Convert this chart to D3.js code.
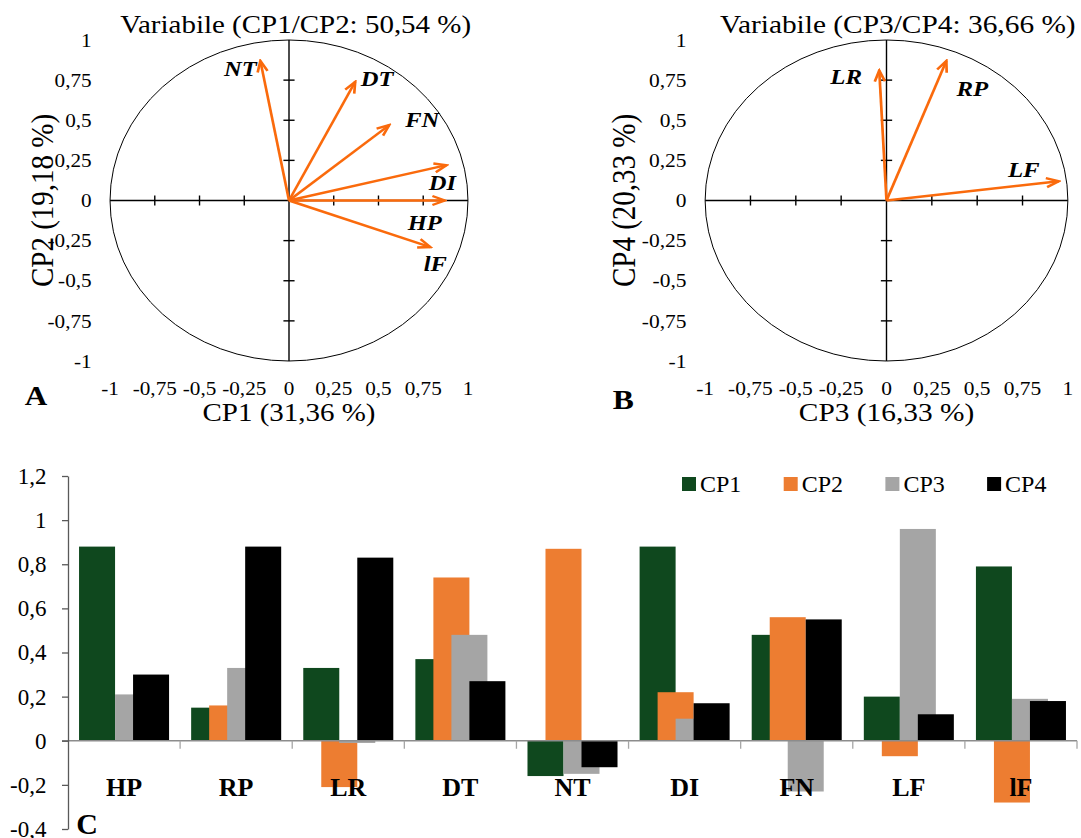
<!DOCTYPE html>
<html>
<head>
<meta charset="utf-8">
<script src="https://cdn.jsdelivr.net/npm/d3@7"></script>
<style>
  body { margin: 0; background: #fff; }
  svg { display: block; font-family: "Liberation Serif", "Times New Roman", serif; }
</style>
</head>
<body>
<svg id="chart" width="1081" height="838"></svg>
<script>
// loadings plotted as arrows, panel A (CP1 / CP2)
const varsA = ["NT", "DT", "FN", "DI", "HP", "lF"];
const cp1A = [-0.16, 0.37, 0.56, 0.88, 0.87, 0.79];
const cp2A = [0.87, 0.74, 0.47, 0.22, 0.0, -0.29];

// panel B (CP3 / CP4)
const varsB = ["LR", "RP", "LF"];
const cp3B = [-0.04, 0.33, 0.95];
const cp4B = [0.81, 0.87, 0.12];

const circleTicks = [-1, -0.75, -0.5, -0.25, 0, 0.25, 0.5, 0.75, 1];

// panel C, bar chart of the loadings
const categories = ["HP", "RP", "LR", "DT", "NT", "DI", "FN", "LF", "lF"];
const seriesNames = ["CP1", "CP2", "CP3", "CP4"];
const cp1 = [0.88, 0.15, 0.33, 0.37, -0.16, 0.88, 0.48, 0.20, 0.79];
const cp2 = [0.00, 0.16, -0.21, 0.74, 0.87, 0.22, 0.56, -0.07, -0.28];
const cp3 = [0.21, 0.33, -0.01, 0.48, -0.15, 0.10, -0.23, 0.96, 0.19];
const cp4 = [0.30, 0.88, 0.83, 0.27, -0.12, 0.17, 0.55, 0.12, 0.18];
const barTicks = [-0.4, -0.2, 0, 0.2, 0.4, 0.6, 0.8, 1, 1.2];

const colors = ["#0f481e", "#ed7d31", "#a5a5a5", "#000000"];
const arrowColor = "#fa6a0c";

// label offsets from arrow tips (px)
const labelOffA = { NT: [-20, 7], DT: [22, -3], FN: [33, -6], DI: [-4, 17], HP: [-20, 22], lF: [5, 16] };
const labelOffB = { LR: [-33, 6], RP: [26, 27], LF: [-35, -12] };

const fmt = d3.formatLocale({ decimal: ",", thousands: ".", grouping: [3], currency: ["", ""], minus: "-" }).format("");

const svg = d3.select("#chart");

svg.append("defs").append("marker")
  .attr("id", "head")
  .attr("viewBox", "-13 -7 15 14")
  .attr("markerUnits", "userSpaceOnUse")
  .attr("markerWidth", 15)
  .attr("markerHeight", 14)
  .attr("refX", 0)
  .attr("refY", 0)
  .attr("orient", "auto")
  .append("path")
  .attr("d", "M-11,-4.5 L0,0 L-11,4.5")
  .attr("fill", "none")
  .attr("stroke", arrowColor)
  .attr("stroke-width", 2.4);

function drawCircle(o) {
  const g = svg.append("g").attr("transform", `translate(${o.cx},0) scale(${o.sx},1)`);
  const x = d3.scaleLinear().domain([-1, 1]).range([-160.5, 160.5]);
  const y = d3.scaleLinear().domain([-1, 1]).range([361, 40]);

  g.append("ellipse")
    .attr("cx", x(0)).attr("cy", y(0))
    .attr("rx", x(1) - x(0)).attr("ry", y(-1) - y(0))
    .attr("fill", "none").attr("stroke", "#000").attr("stroke-width", 1)
    .attr("vector-effect", "non-scaling-stroke");

  const axes = g.append("g").attr("stroke", "#000").attr("stroke-width", 1.4);
  axes.append("line").attr("x1", x(-1)).attr("x2", x(1)).attr("y1", y(0)).attr("y2", y(0))
    .attr("vector-effect", "non-scaling-stroke");
  axes.append("line").attr("x1", x(0)).attr("x2", x(0)).attr("y1", y(-1)).attr("y2", y(1))
    .attr("vector-effect", "non-scaling-stroke");

  const inner = circleTicks.filter(t => t !== 0 && Math.abs(t) !== 1);
  inner.forEach(t => {
    axes.append("line").attr("x1", x(t)).attr("x2", x(t)).attr("y1", y(0) - 5).attr("y2", y(0) + 5)
      .attr("vector-effect", "non-scaling-stroke");
    axes.append("line").attr("x1", x(0) - 5).attr("x2", x(0) + 5).attr("y1", y(t)).attr("y2", y(t))
      .attr("vector-effect", "non-scaling-stroke");
  });

  g.selectAll(".ylab").data(circleTicks).join("text")
    .attr("x", -177).attr("y", d => y(d)).attr("dy", "0.35em")
    .attr("text-anchor", "end").attr("font-size", 19)
    .text(d => fmt(d));

  g.selectAll(".xlab").data(circleTicks).join("text")
    .attr("x", d => x(d)).attr("y", 395)
    .attr("text-anchor", "middle").attr("font-size", 19)
    .text(d => fmt(d));

  g.append("text").attr("x", o.titleX).attr("y", 33)
    .attr("text-anchor", "middle").attr("font-size", 26).text(o.title);
  g.append("text").attr("x", 0).attr("y", 421)
    .attr("text-anchor", "middle").attr("font-size", 26).text(o.xTitle);
  g.append("text")
    .attr("transform", `translate(${o.yTitleX},${y(0)}) rotate(-90)`)
    .attr("dy", "0.35em")
    .attr("text-anchor", "middle").attr("font-size", 29).text(o.yTitle);
  g.append("text").attr("x", o.letterX).attr("y", o.letterY)
    .attr("text-anchor", "middle").attr("font-size", 28).attr("font-weight", "bold").text(o.letter);

  o.names.forEach((name, i) => {
    const tx = x(o.xs[i]), ty = y(o.ys[i]);
    g.append("line")
      .attr("x1", x(0)).attr("y1", y(0)).attr("x2", tx).attr("y2", ty)
      .attr("stroke", arrowColor).attr("stroke-width", 2.4)
      .attr("marker-end", "url(#head)");
    const off = o.offsets[name];
    g.append("text")
      .attr("x", tx + off[0] / o.sx).attr("y", ty + off[1]).attr("dy", "0.35em")
      .attr("text-anchor", "middle").attr("font-size", 22)
      .attr("font-weight", "bold").attr("font-style", "italic")
      .text(name);
  });
}

drawCircle({
  cx: 289, sx: 1.115, names: varsA, xs: cp1A, ys: cp2A, offsets: labelOffA,
  title: "Variabile (CP1/CP2: 50,54 %)", titleX: 6,
  xTitle: "CP1 (31,36 %)", yTitle: "CP2 (19,18 %)", yTitleX: -222,
  letter: "A", letterX: -227, letterY: 405
});

drawCircle({
  cx: 886.5, sx: 1.13, names: varsB, xs: cp3B, ys: cp4B, offsets: labelOffB,
  title: "Variabile (CP3/CP4: 36,66 %)", titleX: 10,
  xTitle: "CP3 (16,33 %)", yTitle: "CP4 (20,33 %)", yTitleX: -233,
  letter: "B", letterX: -233, letterY: 409
});

// ---- panel C ----
const series = [cp1, cp2, cp3, cp4];
const x0 = d3.scaleBand().domain(categories).range([68, 1077]).padding(0);
const yC = d3.scaleLinear().domain([-0.4, 1.2]).range([829, 476]);
const bw = x0.bandwidth();
const step = bw * 0.1606;
const pad = (bw - 5 * step) / 2;

const bars = svg.append("g");
series.forEach((vals, i) => {
  bars.selectAll(null).data(vals).join("rect")
    .attr("x", (d, j) => x0(categories[j]) + pad + i * step)
    .attr("width", 2 * step)
    .attr("y", d => yC(Math.max(0, d)))
    .attr("height", d => Math.abs(yC(d) - yC(0)))
    .attr("fill", colors[i]);
});

// category axis
svg.append("line")
  .attr("x1", 62).attr("x2", 1077).attr("y1", yC(0)).attr("y2", yC(0))
  .attr("stroke", "#8c8c8c").attr("stroke-width", 1.3);
const bounds = categories.map(c => x0(c)).concat([x0.range()[1]]).slice(1);
svg.selectAll(".ctick").data(bounds).join("line")
  .attr("x1", d => d).attr("x2", d => d)
  .attr("y1", yC(0)).attr("y2", yC(0) + 8)
  .attr("stroke", "#a6a6a6").attr("stroke-width", 1.3);

const yAxis = svg.append("g")
  .attr("transform", "translate(68,0)")
  .call(d3.axisLeft(yC).tickValues(barTicks).tickSize(6).tickSizeOuter(0).tickPadding(15.5).tickFormat(fmt));
yAxis.select(".domain").attr("stroke", "#595959").attr("stroke-width", 1.3);
yAxis.selectAll(".tick line").attr("stroke", "#595959").attr("stroke-width", 1.3);
yAxis.selectAll(".tick text")
  .attr("fill", "#000")
  .attr("font-family", "Liberation Serif, Times New Roman, serif")
  .attr("font-size", 23);

svg.selectAll(".clab").data(categories).join("text")
  .attr("x", d => x0(d) + bw / 2).attr("y", 796)
  .attr("text-anchor", "middle").attr("font-size", 26).attr("font-weight", "bold")
  .text(d => d);

const legend = svg.append("g").selectAll("g").data(seriesNames).join("g")
  .attr("transform", (d, i) => `translate(${682 + i * 101.7},477)`);
legend.append("rect").attr("width", 14).attr("height", 14).attr("fill", (d, i) => colors[i]);
legend.append("text").attr("x", 18).attr("y", 14.5).attr("font-size", 24).text(d => d);

svg.append("text").attr("x", 87).attr("y", 834)
  .attr("text-anchor", "middle").attr("font-size", 30).attr("font-weight", "bold").text("C");
</script>
</body>
</html>
